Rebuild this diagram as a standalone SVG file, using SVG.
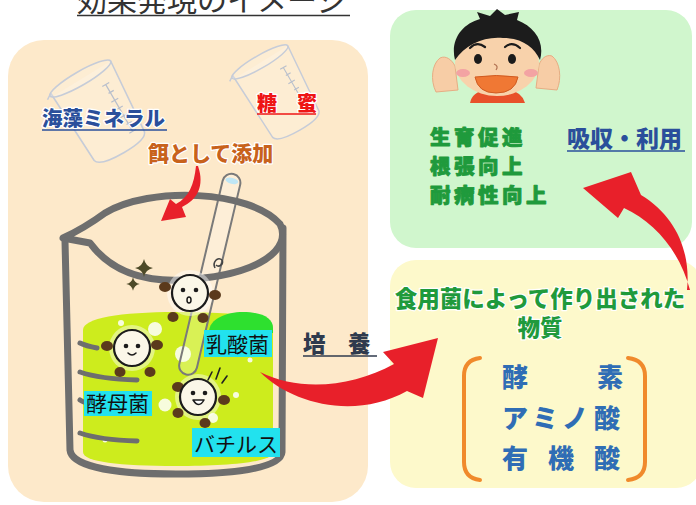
<svg xmlns="http://www.w3.org/2000/svg" width="696" height="505" viewBox="0 0 696 505">
  <defs>
    <style>
      .jp { font-family: "Noto Sans CJK JP", "Noto Sans CJK SC", sans-serif; }
      .heavy { font-family: "Noto Sans CJK JP", "Noto Sans CJK SC", sans-serif; font-weight: 900; }
      .halo { stroke: #ffffff; stroke-width: 2.5; stroke-linejoin: round; paint-order: stroke; }
      .rim { fill: none; stroke: #6e6e6e; stroke-width: 7; stroke-linecap: round; stroke-linejoin: round; }
      .grad { fill: none; stroke: #6e6e6e; stroke-width: 5; stroke-linecap: round; }
      .ghost { fill: rgba(255,255,255,0.18); stroke: #c6ccd8; stroke-width: 1.6; stroke-linejoin: round; }
      .ghost-tick { stroke: #b8bfcc; stroke-width: 1.2; }
      .body { fill: #fbf7e8; stroke: #1b1b1b; stroke-width: 2.2; }
      .glow { fill: #ffffff; opacity: 0.45; }
      .limb { fill: #5b3a1c; }
      .eye { fill: #1b1b1b; }
      .tag { fill: #22e2ee; }
      .tagtxt { font-family: "Noto Sans CJK JP", "Noto Sans CJK SC", sans-serif; font-size: 21px; fill: #111111; }
      .arrow { fill: #e8202a; }
      .green { fill: #1f9a3c; }
      .effect { font-size: 20.5px; letter-spacing: 3.5px; stroke: #1f9a3c; stroke-width: 0.9; stroke-linejoin: round; }
      .blue { fill: #2a4f9b; }
      .ulblue { stroke: #2a4f9b; stroke-width: 1.6; }
      .prod { fill: #2f6db5; font-size: 26px; }
      .bracket { fill: none; stroke: #f08a2c; stroke-width: 4; stroke-linecap: round; }
      .skin { fill: #f7cda6; stroke: #e6ad84; stroke-width: 1; }
    </style>
    <!-- tilted measuring beaker used in the background -->
    <g id="mini-beaker">
      <path class="ghost" d="M-4,2 L2,-2 L6,78 Q8,86 36,86 Q62,86 64,78 L70,0"/>
      <ellipse class="ghost" cx="35" cy="0" rx="35" ry="7" fill="none"/>
      <path class="ghost-tick" d="M50,18 L58,18 M52,27 L58,27 M50,36 L58,36 M52,45 L58,45 M50,54 L58,54 M52,63 L58,63 M50,72 L58,72 M54,18 L54,72"/>
    </g>
    <path id="sparkle" d="M0,-9 Q1.5,-1.5 9,0 Q1.5,1.5 0,9 Q-1.5,1.5 -9,0 Q-1.5,-1.5 0,-9 Z"/>
  </defs>

  <rect width="696" height="505" fill="#ffffff"/>

  <!-- heading -->
  <g id="title">
    <text class="jp" x="77" y="11" font-size="30" fill="#333333">効果発現のイメージ</text>
    <line x1="77" y1="15.5" x2="350" y2="15.5" stroke="#333333" stroke-width="1.5"/>
  </g>

  <!-- culture panel -->
  <g id="culture">
    <rect x="8" y="40" width="360" height="462" rx="36" fill="#fde9ca"/>

    <use href="#mini-beaker" transform="translate(50,96) rotate(-30)"/>
    <use href="#mini-beaker" transform="translate(232,78) rotate(-30) scale(0.92)"/>

    <g id="mineral">
      <text class="heavy blue halo" x="42" y="126" font-size="20.5">海藻ミネラル</text>
      <line class="ulblue" x1="42" y1="130" x2="167" y2="130"/>
    </g>
    <g id="molasses">
      <text class="heavy halo" x="257" y="111" font-size="20" fill="#ee1515">糖　蜜</text>
      <line x1="257" y1="114" x2="316" y2="114" stroke="#ee1515" stroke-width="1.6"/>
    </g>
    <text class="heavy halo" x="148" y="161" font-size="21" fill="#c8621c">餌として添加</text>

    <!-- beaker -->
    <g id="beaker">
      <!-- liquid -->
      <path d="M83,330 C83,318 120,312 176,312 C232,312 273,316 273,328 L273,452 C273,462 232,466 176,466 C120,466 83,462 83,452 Z" fill="#cdec1d"/>
      <path d="M209,332 C209,319 226,312 243,312 C262,312 273,318 273,328 L273,333 Z" fill="#2ee02f"/>
      <g fill="#ffffff" opacity="0.85">
        <circle cx="155" cy="329" r="7"/>
        <circle cx="183" cy="354" r="8"/>
        <circle cx="165" cy="405" r="6.5"/>
        <circle cx="213" cy="418" r="5"/>
        <circle cx="121" cy="323" r="3"/>
        <circle cx="236" cy="395" r="3"/>
        <circle cx="105" cy="440" r="2.5"/>
        <circle cx="250" cy="360" r="2.5"/>
      </g>
      <!-- graduation marks -->
      <path class="grad" d="M80,343 Q86,346 97,348 M80,372 Q100,379 137,380 M80,400 Q84,403 95,405 M80,433 Q100,440 137,441"/>

      <!-- glass rod -->
      <g transform="translate(233,176) rotate(13.3)">
        <rect x="-9" y="-2" width="18" height="206" rx="9" fill="rgba(255,255,255,0.25)" stroke="#7a7a7a" stroke-width="2"/>
        <ellipse cx="0" cy="5" rx="6.5" ry="3" fill="#bfe6f5"/>
      </g>

      <!-- rim and walls -->
      <path class="rim" d="M63,238 C76,232 90,224 105,213 C150,186 250,190 280,224 C292,248 262,276 180,280 C130,282 104,262 90,243 Z"/>
      <path class="rim" d="M65,241 L70,450 C72,468 120,474 176,474 C232,474 281,469 282,452 L283,228"/>
      <path d="M215,268 C212,262 218,256 222,260 C224,264 219,268 216,265" fill="none" stroke="#444" stroke-width="1.6"/>
    </g>

    <!-- sparkles -->
    <use href="#sparkle" x="144" y="268" fill="#4d4a28"/>
    <use href="#sparkle" transform="translate(133,284) scale(0.75)" fill="#4d4a28"/>

    <!-- bacteria -->
    <g id="bug-top" transform="translate(190,293)">
      <circle class="glow" r="23"/>
      <ellipse class="limb" cx="-25" cy="-6" rx="6" ry="5"/>
      <ellipse class="limb" cx="25" cy="2" rx="6" ry="5"/>
      <ellipse class="limb" cx="-17" cy="24" rx="5.5" ry="5"/>
      <ellipse class="limb" cx="13" cy="25" rx="5.5" ry="5"/>
      <circle class="body" r="18"/>
      <circle class="eye" cx="-7" cy="-3" r="2.3"/>
      <circle class="eye" cx="6" cy="-3" r="2.3"/>
      <ellipse cx="-1" cy="7" rx="2" ry="3" fill="none" stroke="#1b1b1b" stroke-width="1.5"/>
    </g>
    <g id="bug-left" transform="translate(132,348)">
      <circle class="glow" r="23"/>
      <ellipse class="limb" cx="-25" cy="-2" rx="6" ry="5"/>
      <ellipse class="limb" cx="25" cy="-3" rx="6" ry="5"/>
      <ellipse class="limb" cx="-12" cy="24" rx="5.5" ry="5"/>
      <ellipse class="limb" cx="18" cy="24" rx="5.5" ry="5"/>
      <circle class="body" r="18"/>
      <circle class="eye" cx="-6" cy="-2" r="2.3"/>
      <circle class="eye" cx="6" cy="-2" r="2.3"/>
      <path d="M-4,5 Q0,9 4,5" fill="none" stroke="#1b1b1b" stroke-width="1.5" stroke-linecap="round"/>
    </g>
    <g id="bug-right" transform="translate(198,397)">
      <circle class="glow" r="23"/>
      <ellipse class="limb" cx="-20" cy="-10" rx="6" ry="5"/>
      <ellipse class="limb" cx="26" cy="3" rx="6" ry="5"/>
      <ellipse class="limb" cx="-20" cy="16" rx="5.5" ry="5"/>
      <ellipse class="limb" cx="7" cy="26" rx="5.5" ry="5"/>
      <circle class="body" r="18"/>
      <circle class="eye" cx="-5" cy="-4" r="2.3"/>
      <circle class="eye" cx="7" cy="-4" r="2.3"/>
      <path d="M-5,3 Q1,12 6,3 Z" fill="#ffffff" stroke="#1b1b1b" stroke-width="1.5" stroke-linejoin="round"/>
    </g>
    <path d="M212,372 L208,380 M220,368 L216,379 M227,376 L222,383" stroke="#222" stroke-width="1.6" stroke-linecap="round"/>

    <!-- microbe labels -->
    <g id="label-lactic">
      <rect class="tag" x="204" y="330" width="68" height="27"/>
      <text class="tagtxt" x="206" y="352">乳酸菌</text>
    </g>
    <g id="label-yeast">
      <rect class="tag" x="84" y="391" width="68" height="25"/>
      <text class="tagtxt" x="86" y="411">酵母菌</text>
    </g>
    <g id="label-bacillus">
      <rect class="tag" x="192" y="428" width="88" height="29"/>
      <text class="tagtxt" x="194" y="452">バチルス</text>
    </g>
  </g>

  <!-- effects panel -->
  <g id="effects">
    <rect x="390" y="10" width="302" height="238" rx="26" fill="#d0f6cd"/>
    <g id="boy">
      <!-- raised hands behind the face -->
      <path class="skin" d="M436,92 C430,80 432,64 440,58 C446,55 452,60 455,66 L458,90 Z"/>
      <path class="skin" d="M557,90 C562,78 560,62 552,56 C546,54 541,59 539,65 L536,88 Z"/>
      <path d="M470,103 Q472,92 486,90 L509,90 Q522,92 525,103 Z" fill="#e8502a"/>
      <ellipse cx="497" cy="63" rx="42" ry="33" fill="#f8d2ab"/>
      <path d="M455,60 C450,40 462,24 480,19 L477,12 L490,16 L497,9 L505,15 L519,12 L517,20 C535,27 545,42 540,60 C534,47 522,38 503,38 C484,36 465,45 455,60 Z" fill="#1c1c1c"/>
      <path d="M470,48 Q477,41 485,47 M505,47 Q512,41 520,48" fill="none" stroke="#1c1c1c" stroke-width="2.2" stroke-linecap="round"/>
      <ellipse class="eye" cx="478" cy="59" rx="4" ry="5"/>
      <ellipse class="eye" cx="512" cy="59" rx="4" ry="5"/>
      <ellipse cx="463" cy="73" rx="7" ry="4" fill="#f3a3a3"/>
      <ellipse cx="531" cy="73" rx="7" ry="4" fill="#f3a3a3"/>
      <path d="M494,64 Q499,66 496,70" fill="none" stroke="#b07050" stroke-width="1.2"/>
      <path d="M475,77 Q496,74 518,77 Q515,93 496,93 Q478,93 475,77 Z" fill="#f07834" stroke="#d05a20" stroke-width="1"/>
    </g>
    <text class="heavy green effect" x="430" y="145">生育促進</text>
    <text class="heavy green effect" x="430" y="174">根張向上</text>
    <text class="heavy green effect" x="430" y="203">耐病性向上</text>
  </g>

  <!-- products panel -->
  <g id="products">
    <rect x="390" y="260" width="312" height="228" rx="26" fill="#fdf9cb"/>
    <text class="heavy green halo" x="540" y="307" font-size="22.5" text-anchor="middle">食用菌によって作り出された</text>
    <text class="heavy green halo" x="540" y="336" font-size="22.5" text-anchor="middle">物質</text>
    <path class="bracket" d="M480,358 Q464,360 464,376 L464,462 Q464,478 480,480"/>
    <path class="bracket" d="M628,358 Q645,360 645,376 L645,462 Q645,478 628,480"/>
    <g class="heavy prod">
      <text x="502" y="387">酵</text>
      <text x="597" y="387">素</text>
      <text x="502" y="428">ア</text>
      <text x="532" y="428">ミ</text>
      <text x="562" y="428">ノ</text>
      <text x="594" y="428">酸</text>
      <text x="502" y="468">有</text>
      <text x="548" y="468">機</text>
      <text x="594" y="468">酸</text>
    </g>
  </g>

  <!-- arrows between stages and their labels -->
  <g id="connectors">
    <path class="arrow" d="M198,166 C205,186 197,200 182,207 L186,217 L161,221 L170,199 L176,204 C189,197 194,185 196,166 Z"/>
    <path class="arrow" d="M260,372 C292,404 355,420 407,391 L423,398 L438,338 L383,352 L394,364 C352,387 300,392 260,372 Z"/>
    <path class="arrow" d="M687,290 C691,252 676,216 641,195 L631,172 L583,188 L618,218 L624,208 C655,222 680,252 690,290 Z"/>
    <g id="label-culture">
      <text class="heavy" x="303" y="352" font-size="22.5" fill="#2f3a4d">培　養</text>
      <line x1="303" y1="356" x2="377" y2="356" stroke="#2f3a4d" stroke-width="1.6"/>
    </g>
    <g id="label-absorb">
      <text class="heavy blue" x="567" y="147" font-size="23">吸収・利用</text>
      <line class="ulblue" x1="567" y1="151" x2="685" y2="151"/>
    </g>
  </g>
</svg>
